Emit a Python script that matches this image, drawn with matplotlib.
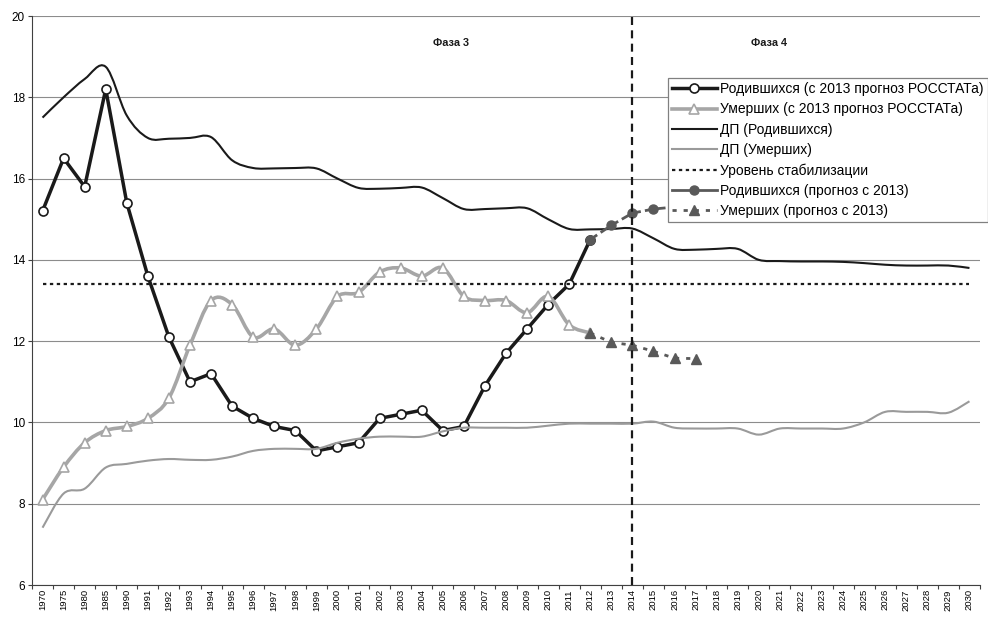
import numpy as np
import matplotlib
matplotlib.use("Agg")
import matplotlib.pyplot as plt
from matplotlib.path import Path
from matplotlib.patches import PathPatch
from matplotlib.lines import Line2D

plt.rcParams['font.family'] = ['Liberation Sans', 'DejaVu Sans']

# ---------------- data ----------------
years = ["1970", "1975", "1980", "1985", "1990"] + [str(y) for y in range(1991, 2031)]

births_rosstat_years = ["1970", "1975", "1980", "1985", "1990"] + [str(y) for y in range(1991, 2013)]
births_rosstat = [15.2, 16.5, 15.8, 18.2, 15.4,
                  13.6, 12.1, 11.0, 11.2, 10.4, 10.1, 9.9, 9.8, 9.3, 9.4,
                  9.5, 10.1, 10.2, 10.3, 9.8, 9.9, 10.9, 11.7, 12.3, 12.9,
                  13.4, 14.5]

deaths_rosstat_years = births_rosstat_years
deaths_rosstat = [8.1, 8.9, 9.5, 9.8, 9.9,
                  10.1, 10.6, 11.9, 13.0, 12.9, 12.1, 12.3, 11.9, 12.3, 13.1,
                  13.2, 13.7, 13.8, 13.6, 13.8, 13.1, 13.0, 13.0, 12.7, 13.1,
                  12.4, 12.2]

dp_births = [17.5, 18.0, 18.45, 18.75, 17.55,
             17.0, 16.98, 17.0, 17.02, 16.45, 16.26, 16.25, 16.26, 16.25, 16.0,
             15.77, 15.75, 15.77, 15.78, 15.52, 15.25, 15.25, 15.27, 15.27, 15.0,
             14.76, 14.75, 14.76, 14.77, 14.53, 14.27, 14.25, 14.27, 14.27, 14.0,
             13.97, 13.96, 13.96, 13.95, 13.92, 13.88, 13.86, 13.86, 13.86, 13.8]

dp_deaths = [7.41, 8.25, 8.37, 8.89, 8.98,
             9.06, 9.1, 9.08, 9.08, 9.16, 9.3, 9.35, 9.35, 9.35, 9.5,
             9.6, 9.65, 9.65, 9.65, 9.78, 9.87, 9.87, 9.87, 9.87, 9.92,
             9.97, 9.97, 9.97, 9.97, 10.02, 9.87, 9.85, 9.85, 9.85, 9.7,
             9.85, 9.85, 9.85, 9.85, 10.0, 10.26, 10.26, 10.26, 10.24, 10.52]

stabilization = [13.4] * len(years)

forecast_years = ["2012", "2013", "2014", "2015", "2016", "2017"]
births_forecast = [14.5, 14.85, 15.15, 15.25, 15.3, 15.35]
deaths_forecast = [12.2, 11.97, 11.9, 11.75, 11.58, 11.57]

phase_line_year = "2014"
labels = ["Родившихся (с 2013 прогноз РОССТАТа)",
          "Умерших (с 2013 прогноз РОССТАТа)",
          "ДП (Родившихся)",
          "ДП (Умерших)",
          "Уровень стабилизации",
          "Родившихся (прогноз с 2013)",
          "Умерших (прогноз с 2013)"]

# ---------------- helpers ----------------
def idx(yrs):
    return np.array([years.index(y) for y in yrs], dtype=float)

def smooth_path(xs, ys):
    pts = np.column_stack([xs, ys]).astype(float)
    n = len(pts)
    verts = [pts[0]]
    codes = [Path.MOVETO]
    for i in range(n - 1):
        p0 = pts[i - 1] if i > 0 else pts[i]
        p1 = pts[i]
        p2 = pts[i + 1]
        p3 = pts[i + 2] if i + 2 < n else pts[i + 1]
        c1 = p1 + (p2 - p0) / 6.0
        c2 = p2 - (p3 - p1) / 6.0
        verts += [c1, c2, p2]
        codes += [Path.CURVE4] * 3
    return Path(verts, codes)

def draw(ax, xs, ys, color, lw, ls='-', z=2):
    patch = PathPatch(smooth_path(xs, ys), fill=False, edgecolor=color, lw=lw,
                      linestyle=ls, capstyle='butt', joinstyle='round', zorder=z)
    ax.add_patch(patch)

# ---------------- figure ----------------
fig = plt.figure(figsize=(9.88, 6.25), dpi=100)
ax = fig.add_axes([32 / 988, 1 - 585 / 625, (980 - 32) / 988, (585 - 16) / 625])

BLACK = "#1a1a1a"
LGRAY = "#a6a6a6"
DGRAY = "#595959"

# series 1: births (straight segments)
xb = idx(births_rosstat_years)
ax.plot(xb, births_rosstat, color=BLACK, lw=2.5, solid_joinstyle='round',
        marker='o', ms=6.5, mfc='white', mec=BLACK, mew=1.2, zorder=3)

# series 2: deaths
xd = idx(deaths_rosstat_years)
draw(ax, xd, deaths_rosstat, LGRAY, 2.6, z=3.2)
ax.plot(xd, deaths_rosstat, ls='none', marker='^', ms=6.5, mfc='white',
        mec=LGRAY, mew=1.2, zorder=3.3)

# DP lines
xa = idx(years)
draw(ax, xa, dp_births, BLACK, 1.5, z=3.4)
draw(ax, xa, dp_deaths, "#9a9a9a", 1.5, z=3.5)

# stabilization level
ax.plot(xa, stabilization, color=BLACK, lw=1.6, ls=(0, (1.5, 1.6)), zorder=3.6)

# forecasts
xf = idx(forecast_years)
ax.plot(xf, births_forecast, color=DGRAY, lw=2.0, ls=(0, (3, 1.5)),
        marker='o', ms=6.5, mfc=DGRAY, mec=DGRAY, zorder=3.8)
ax.plot(xf, deaths_forecast, color=DGRAY, lw=2.0, ls=(0, (1.5, 2.5)),
        marker='^', ms=7, mfc=DGRAY, mec=DGRAY, zorder=4.0)

# phase divider
ax.axvline(years.index(phase_line_year), color=BLACK, lw=1.6,
           ls=(0, (3.6, 2.4)), zorder=4.1)

ax.text(0.442, 0.953, "Фаза 3", transform=ax.transAxes, ha='center', va='center',
        fontsize=7.8, fontweight='bold', color=BLACK)
ax.text(0.778, 0.953, "Фаза 4", transform=ax.transAxes, ha='center', va='center',
        fontsize=7.8, fontweight='bold', color=BLACK)

# axes
ax.set_xlim(-0.5, len(years) - 0.5)
ax.set_ylim(6, 20)
ax.set_yticks(np.arange(6, 21, 2))
ax.set_yticklabels([str(v) for v in range(6, 21, 2)], fontsize=8.5)
ax.set_xticks(np.arange(len(years)))
ax.set_xticklabels(years, rotation=90, fontsize=6.8)
ax.set_xticks(np.arange(len(years) + 1) - 0.5, minor=True)
ax.tick_params(axis='x', which='major', length=0, pad=3)
ax.tick_params(axis='x', which='minor', length=3, width=0.8, color='#404040')
ax.tick_params(axis='y', length=3, width=0.8, color='#404040', pad=2)
ax.grid(axis='y', color='#8c8c8c', lw=0.8)
ax.set_axisbelow(True)
for s in ['top', 'right']:
    ax.spines[s].set_visible(False)
for s in ['left', 'bottom']:
    ax.spines[s].set_color('#404040')
    ax.spines[s].set_linewidth(0.8)

# legend
handles = [
    Line2D([], [], color=BLACK, lw=2.5, marker='o', ms=6.5, mfc='white', mec=BLACK, mew=1.2),
    Line2D([], [], color=LGRAY, lw=2.6, marker='^', ms=6.5, mfc='white', mec=LGRAY, mew=1.2),
    Line2D([], [], color=BLACK, lw=1.5),
    Line2D([], [], color="#9a9a9a", lw=1.5),
    Line2D([], [], color=BLACK, lw=1.6, ls=(0, (1.5, 1.6))),
    Line2D([], [], color=DGRAY, lw=2.0, marker='o', ms=6.5, mfc=DGRAY, mec=DGRAY),
    Line2D([], [], color=DGRAY, lw=2.0, ls=(0, (1.5, 2.5)), marker='^', ms=7, mfc=DGRAY, mec=DGRAY),
]
leg = ax.legend(handles, labels, loc='upper left', bbox_to_anchor=(668 / 988, 1 - 78 / 625),
                bbox_transform=fig.transFigure, frameon=True, fancybox=False,
                edgecolor='#808080', framealpha=1, borderpad=0.3, labelspacing=0.45,
                handlelength=3.2, handletextpad=0.25, borderaxespad=0, fontsize=10)
leg.get_frame().set_linewidth(0.9)
leg.set_zorder(10)

fig.savefig("out.png", dpi=100)
